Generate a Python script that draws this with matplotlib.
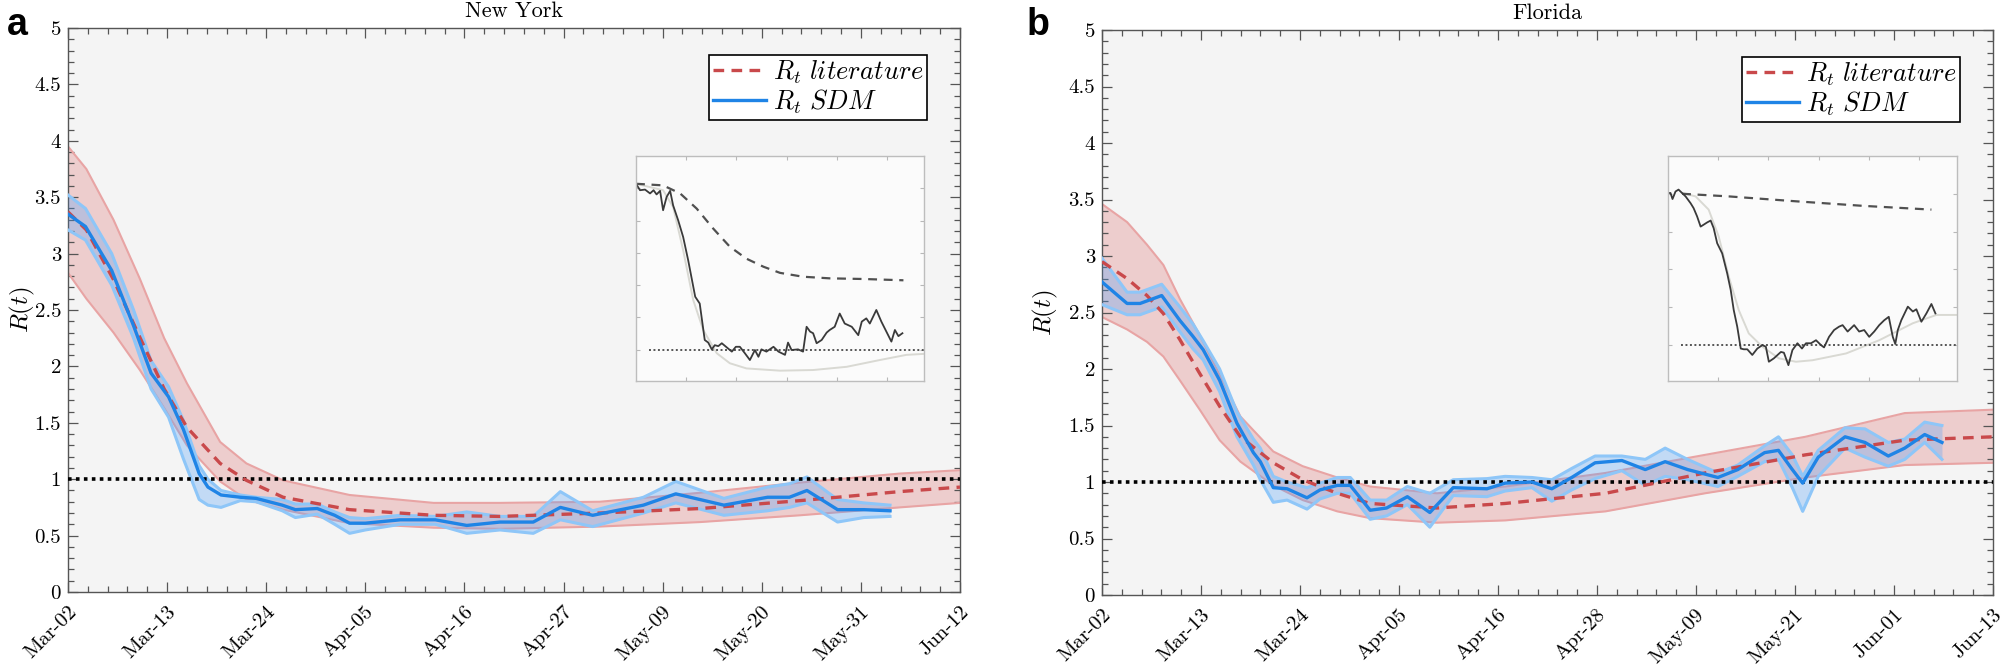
import numpy as np
import matplotlib
matplotlib.use('Agg')
import matplotlib.pyplot as plt
from matplotlib.ticker import MultipleLocator, AutoMinorLocator
from matplotlib.transforms import ScaledTranslation

plt.rcParams['font.family'] = 'cmr10'
plt.rcParams['mathtext.fontset'] = 'cm'
plt.rcParams['axes.formatter.use_mathtext'] = True
plt.rcParams['axes.unicode_minus'] = False

# ---- tick labels ----
ny_dates = ['Mar-02', 'Mar-13', 'Mar-24', 'Apr-05', 'Apr-16', 'Apr-27',
            'May-09', 'May-20', 'May-31', 'Jun-12']
fl_dates = ['Mar-02', 'Mar-13', 'Mar-24', 'Apr-05', 'Apr-16', 'Apr-28',
            'May-09', 'May-21', 'Jun-01', 'Jun-13']
ytick_labels = ['0', '0.5', '1', '1.5', '2', '2.5', '3', '3.5', '4', '4.5', '5']

# ---- New York: R_t literature (days since Mar-02) ----
ny_lit_days = [0, 2.1, 5.2, 8.2, 11, 13.6, 17.4, 20.4, 24.6, 32.2, 41.8, 49.4,
               60.8, 72.3, 83.7, 95.1, 102]
ny_lit_mid = [3.37, 3.21, 2.77, 2.26, 1.80, 1.46, 1.14, 0.99, 0.84, 0.73, 0.68,
              0.67, 0.70, 0.74, 0.81, 0.89, 0.93]
ny_lit_lo = [2.83, 2.60, 2.30, 1.97, 1.63, 1.30, 0.98, 0.82, 0.73, 0.61, 0.57,
             0.56, 0.58, 0.62, 0.68, 0.75, 0.79]
ny_lit_hi = [3.95, 3.75, 3.30, 2.78, 2.25, 1.85, 1.33, 1.14, 0.99, 0.86, 0.79,
             0.79, 0.80, 0.88, 0.97, 1.05, 1.08]

# ---- New York: R_t SDM ----
ny_sdm_days = [0, 2, 5, 7.5, 9.5, 11.5, 13.2, 15, 16, 17.5, 19.7, 21.5, 24.5,
               26, 28.5, 30.5, 32.2, 34, 38, 42, 45.6, 49.4, 53.2, 56.3, 60,
               65.8, 69.5, 75, 80, 82.5, 84.5, 88, 91, 94]
ny_sdm_mid = [3.35, 3.24, 2.85, 2.36, 1.94, 1.73, 1.44, 1.05, 0.93, 0.86,
              0.84, 0.83, 0.77, 0.73, 0.74, 0.68, 0.61, 0.61, 0.64, 0.64,
              0.59, 0.62, 0.62, 0.75, 0.68, 0.77, 0.87, 0.77, 0.84, 0.84,
              0.90, 0.73, 0.73, 0.72]
ny_sdm_hi = [3.52, 3.40, 3.00, 2.50, 2.05, 1.82, 1.52, 1.12, 1.00, 0.90,
             0.86, 0.84, 0.82, 0.78, 0.78, 0.71, 0.66, 0.65, 0.68, 0.67,
             0.71, 0.67, 0.67, 0.89, 0.72, 0.84, 0.98, 0.83, 0.93, 0.96,
             1.02, 0.82, 0.79, 0.77]
ny_sdm_lo = [3.21, 3.12, 2.72, 2.25, 1.80, 1.55, 1.18, 0.82, 0.77, 0.75,
             0.81, 0.80, 0.72, 0.66, 0.69, 0.60, 0.52, 0.55, 0.60, 0.60,
             0.52, 0.55, 0.52, 0.64, 0.58, 0.70, 0.79, 0.68, 0.72, 0.75,
             0.79, 0.62, 0.66, 0.67]

# ---- Florida: R_t literature ----
fl_lit_days = [0, 2.9, 5.2, 7.1, 9, 11.3, 13.6, 16, 19.8, 23.2, 27.2, 31, 38.7,
               46.6, 58.2, 69.7, 81.3, 92.8, 103]
fl_lit_mid = [2.95, 2.80, 2.65, 2.49, 2.26, 1.96, 1.67, 1.40, 1.17, 1.02, 0.90,
              0.81, 0.77, 0.81, 0.90, 1.08, 1.24, 1.37, 1.40]
fl_lit_lo = [2.46, 2.35, 2.24, 2.11, 1.90, 1.64, 1.37, 1.18, 0.97, 0.84, 0.74,
             0.68, 0.64, 0.66, 0.74, 0.90, 1.04, 1.15, 1.17]
fl_lit_hi = [3.46, 3.30, 3.10, 2.92, 2.62, 2.30, 1.95, 1.58, 1.27, 1.14, 1.04,
             0.96, 0.90, 0.96, 1.08, 1.24, 1.40, 1.61, 1.64]

# ---- Florida: R_t SDM ----
fl_sdm_days = [0, 2.9, 4.4, 6.9, 9, 10.5, 11.7, 13.6, 15.6, 17.5, 18.3, 19.8,
               21.4, 23.7, 25.2, 27.2, 28.7, 31, 32.9, 35.3, 37.9, 40.6, 44.5,
               46.6, 49.7, 52, 54.3, 57, 60.1, 62.8, 65.1, 67.7, 71.2, 73.5,
               76.6, 78.2, 79.8, 81, 82.8, 85.9, 88.2, 90.9, 92.8, 95.1, 97.1]
fl_sdm_mid = [2.77, 2.58, 2.58, 2.65, 2.43, 2.29, 2.17, 1.90, 1.52, 1.26,
              1.18, 0.95, 0.94, 0.86, 0.93, 0.97, 0.97, 0.75, 0.77, 0.87,
              0.73, 0.95, 0.94, 0.99, 1.00, 0.94, 1.04, 1.17, 1.19, 1.11,
              1.18, 1.11, 1.04, 1.11, 1.26, 1.28, 1.11, 0.99, 1.22, 1.40,
              1.35, 1.23, 1.30, 1.42, 1.35]
fl_sdm_hi = [2.98, 2.68, 2.68, 2.75, 2.55, 2.40, 2.25, 2.00, 1.62, 1.38,
             1.30, 1.05, 1.00, 0.95, 0.99, 1.04, 1.04, 0.84, 0.84, 0.96,
             0.90, 1.02, 1.03, 1.05, 1.04, 1.02, 1.12, 1.23, 1.23, 1.20,
             1.30, 1.20, 1.08, 1.15, 1.32, 1.40, 1.24, 1.05, 1.28, 1.48,
             1.47, 1.35, 1.38, 1.53, 1.50]
fl_sdm_lo = [2.57, 2.48, 2.48, 2.55, 2.33, 2.18, 2.08, 1.80, 1.40, 1.15,
             1.02, 0.82, 0.84, 0.76, 0.85, 0.90, 0.90, 0.67, 0.70, 0.80,
             0.60, 0.88, 0.87, 0.92, 0.95, 0.83, 0.93, 1.03, 1.10, 0.97,
             1.05, 1.02, 0.96, 1.05, 1.18, 1.20, 0.95, 0.74, 1.05, 1.30,
             1.22, 1.14, 1.20, 1.35, 1.20]

# ---- insets (arbitrary units, threshold at 1) ----
ny_in_obs_x = [0.00, 0.08, 0.18, 0.28, 0.35, 0.41, 0.48, 0.54, 0.61, 0.68,
               0.74, 0.84, 0.94, 1.04, 1.18, 1.27, 1.37, 1.44, 1.51, 1.57,
               1.64, 1.71, 1.81, 1.91, 1.99, 2.07, 2.17, 2.27, 2.37, 2.44,
               2.50, 2.60, 2.74, 2.84, 2.97, 3.03, 3.10, 3.23, 3.33, 3.40,
               3.47, 3.53, 3.60, 3.70, 3.80, 3.86, 3.96, 4.06, 4.16, 4.30,
               4.43, 4.50, 4.59, 4.66, 4.79, 4.89, 4.99, 5.09, 5.16, 5.23, 5.31]
ny_in_obs_y = [6.14, 5.94, 5.96, 5.84, 5.94, 5.81, 5.92, 5.32, 5.73, 5.92,
               5.47, 5.01, 4.49, 3.77, 2.64, 2.43, 1.30, 1.22, 1.01, 1.14,
               1.11, 1.20, 1.07, 0.94, 1.09, 1.09, 0.89, 0.68, 0.99, 0.78,
               1.01, 0.94, 1.09, 0.94, 0.84, 1.22, 0.99, 1.01, 0.94, 1.71,
               1.56, 1.51, 1.20, 1.30, 1.53, 1.61, 1.71, 2.12, 1.81, 1.71,
               1.45, 1.87, 1.97, 1.81, 2.23, 1.87, 1.56, 1.25, 1.61, 1.42, 1.51]
ny_in_lit_x = [0.00, 0.54, 0.88, 1.21, 1.54, 1.87, 2.20, 2.54, 2.87, 3.33,
               3.86, 4.53, 5.33]
ny_in_lit_y = [6.14, 6.09, 5.84, 5.37, 4.75, 4.19, 3.82, 3.57, 3.38, 3.26,
               3.21, 3.19, 3.15]
ny_in_fit_x = [0.00, 0.54, 0.74, 0.94, 1.14, 1.34, 1.61, 1.87, 2.20, 2.87,
               3.53, 4.20, 4.86, 5.39, 5.74]
ny_in_fit_y = [6.14, 5.94, 5.42, 4.08, 2.54, 1.61, 0.89, 0.58, 0.42, 0.35,
               0.37, 0.47, 0.68, 0.84, 0.87]

fl_in_obs_x = [0.00, 0.05, 0.09, 0.15, 0.21, 0.28, 0.35, 0.45, 0.51, 0.58,
               0.65, 0.71, 0.78, 0.85, 0.91, 0.98, 1.08, 1.18, 1.25, 1.31,
               1.38, 1.45, 1.51, 1.58, 1.68, 1.78, 1.88, 1.95, 2.01, 2.11,
               2.25, 2.31, 2.40, 2.48, 2.58, 2.67, 2.75, 2.85, 2.95, 3.05,
               3.11, 3.21, 3.31, 3.41, 3.48, 3.58, 3.71, 3.81, 3.91, 4.01,
               4.11, 4.21, 4.31, 4.40, 4.48, 4.53, 4.58, 4.65, 4.78, 4.88,
               4.95, 5.05, 5.15, 5.25, 5.33]
fl_in_obs_y = [5.02, 5.02, 4.86, 5.06, 5.11, 5.02, 4.93, 4.75, 4.62, 4.40,
               4.13, 4.18, 4.24, 4.29, 4.09, 3.69, 3.42, 2.89, 2.45, 1.92,
               1.48, 0.90, 0.88, 0.88, 0.73, 0.90, 0.99, 0.95, 0.55, 0.64,
               0.81, 0.79, 0.46, 0.86, 1.04, 0.90, 1.04, 1.04, 1.12, 0.99,
               0.93, 1.21, 1.39, 1.48, 1.52, 1.35, 1.52, 1.35, 1.39, 1.21,
               1.35, 1.52, 1.65, 1.74, 1.21, 1.02, 1.39, 1.65, 2.01, 1.88,
               1.94, 1.61, 1.83, 2.08, 1.83]
fl_in_lit_x = [0.28, 1.21, 2.55, 3.88, 5.25]
fl_in_lit_y = [5.00, 4.93, 4.80, 4.68, 4.58]
fl_in_fit_x = [0.28, 0.55, 0.81, 1.01, 1.21, 1.41, 1.61, 1.88, 2.21, 2.55,
               2.88, 3.55, 4.21, 4.88, 5.35, 5.76]
fl_in_fit_y = [5.02, 4.93, 4.58, 3.87, 2.81, 1.92, 1.30, 0.95, 0.64, 0.55,
               0.59, 0.77, 1.12, 1.57, 1.79, 1.79]

RED = '#c9494b'
BLUE = '#1f84e6'


def draw_panel(ax, title, labels, xmax, lit, sdm):
    lit_d, lit_m, lit_lo, lit_hi = lit
    sdm_d, sdm_m, sdm_lo, sdm_hi = sdm
    ax.set_facecolor('#f4f4f4')

    ax.fill_between(lit_d, lit_lo, lit_hi, color='#dc5a5a', alpha=0.25,
                    lw=0, zorder=1)
    ax.plot(lit_d, lit_lo, color='#e8a4a4', lw=1.5, zorder=2)
    ax.plot(lit_d, lit_hi, color='#e8a4a4', lw=1.5, zorder=2)
    ax.fill_between(sdm_d, sdm_lo, sdm_hi, color='#50a0fa', alpha=0.3,
                    lw=0, zorder=3)
    ax.plot(sdm_d, sdm_lo, color='#8ec6f8', lw=2.2, zorder=4)
    ax.plot(sdm_d, sdm_hi, color='#8ec6f8', lw=2.2, zorder=4)

    ax.axhline(1, color='black', lw=2.6, ls=(0, (1, 1.2)), zorder=5)
    ax.plot(lit_d, lit_m, color=RED, lw=2.4, dashes=(3.2, 2.2), zorder=6,
            label=r'$R_t\ literature$')
    ax.plot(sdm_d, sdm_m, color=BLUE, lw=2.4, zorder=7,
            label=r'$R_t\ SDM$')

    ax.set_xlim(0, xmax)
    ax.set_ylim(0, 5)
    ticks = np.linspace(0, xmax, len(labels))
    ax.set_xticks(ticks)
    ax.set_xticklabels(labels, rotation=45, ha='right', va='top')
    ax.xaxis.set_minor_locator(AutoMinorLocator(5))
    ax.set_yticks(np.arange(0, 5.01, 0.5))
    ax.set_yticklabels(ytick_labels)
    ax.yaxis.set_minor_locator(MultipleLocator(0.1))

    ax.tick_params(which='both', direction='in', top=True, right=True,
                   color='#555555', width=0.9, labelsize=15)
    ax.tick_params(which='major', length=7, pad=5)
    ax.tick_params(which='minor', length=4)
    ax.tick_params(axis='x', pad=8)
    for lab in ax.get_xticklabels():
        lab.set_transform(lab.get_transform() +
                          ScaledTranslation(0.12, 0, fig.dpi_scale_trans))
    for sp in ax.spines.values():
        sp.set_color('#555555')
        sp.set_linewidth(1.0)

    ax.set_title(title, fontsize=16, pad=8)
    ax.set_ylabel(r'$R(t)$', fontsize=18)

    leg = ax.legend(loc='upper right', bbox_to_anchor=(0.963, 0.953),
                    borderaxespad=0, fancybox=False, edgecolor='black',
                    framealpha=1, fontsize=19, handlelength=2.0,
                    handletextpad=0.25, borderpad=0.15, labelspacing=0.05)
    leg.get_frame().set_linewidth(1.2)


def draw_inset(rect, obs, lit, fit, xmax, ylim, yticks):
    ins = fig.add_axes(rect, zorder=10)
    ins.set_facecolor('#fbfbfb')
    ins.plot(fit[0], fit[1], color='#d9d9d3', lw=1.4)
    ins.hlines(1, 0.25, xmax, color='#555555', lw=1.4, ls=(0, (1, 1.3)))
    ins.plot(lit[0], lit[1], color='#505050', lw=1.6, dashes=(4, 3))
    ins.plot(obs[0], obs[1], color='#3a3a3a', lw=1.3)
    ins.set_xlim(0, xmax)
    ins.set_ylim(*ylim)
    ins.set_xticks([1, 2, 3, 4, 5])
    ins.set_yticks(yticks)
    ins.tick_params(direction='in', top=True, right=True, length=3,
                    color='#b8b8b8', labelbottom=False, labelleft=False)
    for sp in ins.spines.values():
        sp.set_color('#bdbdbd')
        sp.set_linewidth(1.0)


fig = plt.figure(figsize=(20.05, 6.66), dpi=100)
ax1 = fig.add_axes([68 / 2005, 74 / 666, 892 / 2005, 564 / 666])
ax2 = fig.add_axes([1102 / 2005, 71 / 666, 891 / 2005, 565 / 666])

draw_panel(ax1, 'New York', ny_dates, 102,
           (ny_lit_days, ny_lit_mid, ny_lit_lo, ny_lit_hi),
           (ny_sdm_days, ny_sdm_mid, ny_sdm_lo, ny_sdm_hi))
draw_panel(ax2, 'Florida', fl_dates, 103,
           (fl_lit_days, fl_lit_mid, fl_lit_lo, fl_lit_hi),
           (fl_sdm_days, fl_sdm_mid, fl_sdm_lo, fl_sdm_hi))
ax1.yaxis.set_label_coords(-0.035, 0.5)
ax2.yaxis.set_label_coords(-0.047, 0.5)

draw_inset([636 / 2005, 285 / 666, 288 / 2005, 225 / 666],
           (ny_in_obs_x, ny_in_obs_y), (ny_in_lit_x, ny_in_lit_y),
           (ny_in_fit_x, ny_in_fit_y), 5.74, (0.03, 7.0), [1, 2, 3, 4, 5, 6])
draw_inset([1668 / 2005, 285 / 666, 289 / 2005, 225 / 666],
           (fl_in_obs_x, fl_in_obs_y), (fl_in_lit_x, fl_in_lit_y),
           (fl_in_fit_x, fl_in_fit_y), 5.76, (0.04, 6.0), [1, 2, 3, 4, 5])

fig.text(7 / 2005, 1 - 35 / 666, 'a', fontsize=27, fontweight='bold',
         family='Liberation Sans', va='baseline')
fig.text(1027 / 2005, 1 - 35 / 666, 'b', fontsize=27, fontweight='bold',
         family='Liberation Sans', va='baseline')

fig.savefig('out.png', dpi=100)
